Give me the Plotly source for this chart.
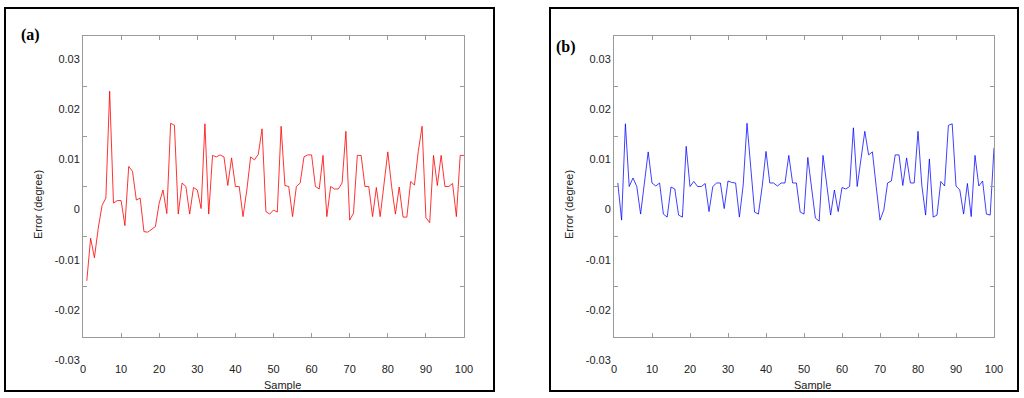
import plotly.graph_objects as go

# ---------------- data (errors in units of 0.001 degree) ----------------
samples = list(range(1, 101))

error_a_milli = [
    -18.8, -10.3, -14.2, -8.3, -3.8, -2.3, 19.0, -3.3, -2.8, -2.8,
    -7.8, 4.0, 3.0, -2.7, -2.3, -9.0, -9.1, -8.6, -8.0, -3.3,
    -0.7, -5.4, 12.6, 12.2, -5.5, 0.7, 0.0, -5.5, -0.2, -0.7,
    -4.4, 12.5, -5.5, 6.2, 5.9, 6.3, 5.9, 0.2, 5.7, 0.0,
    0.0, -6.0, -0.7, 5.9, 5.3, 6.4, 11.5, -5.0, -5.5, -4.7,
    -5.1, 12.0, 0.2, 0.0, -6.0, 0.0, 0.7, 5.9, 6.3, 6.3,
    0.0, -0.5, 6.2, -6.0, 0.0, -0.5, -0.5, 0.7, 11.0, -6.7,
    -5.3, 6.2, 6.2, 0.0, 0.0, -6.0, -0.2, -6.0, 0.3, 6.9,
    0.0, -5.5, -0.1, -6.1, -6.1, 1.0, 0.3, 7.0, 12.0, -6.2,
    -7.2, 6.2, 0.2, 6.2, 0.0, 0.0, 0.6, -6.0, 6.2, 6.2,
]

error_b_milli = [
    0.7, -6.7, 12.5, 0.0, 1.7, 0.0, -5.5, 1.0, 6.9, 0.7,
    0.1, 0.7, -5.5, -6.1, -0.1, -0.5, -5.7, -6.1, 8.0, 0.0,
    1.0, 0.0, 0.0, 0.6, -5.0, 0.0, 0.7, 0.7, -4.4, 1.1,
    0.8, 0.7, -6.1, 0.3, 12.6, 3.7, -5.1, -5.5, 0.0, 7.0,
    0.7, 0.7, 0.1, 0.7, 0.7, 6.2, 0.7, 0.7, -5.1, -5.5,
    5.8, -0.3, -6.3, -6.9, 6.2, 0.3, -5.7, -0.7, -5.0, -0.2,
    -0.5, 0.0, 11.7, 0.0, 5.5, 11.0, 6.3, 6.9, 0.0, -6.7,
    -4.7, 0.7, 1.1, 6.3, 6.3, 0.2, 5.7, 0.7, 0.7, 11.0,
    0.3, -5.7, 5.5, -6.1, -5.7, 1.0, 0.1, 12.2, 12.5, 0.1,
    -0.7, -5.5, 0.6, -6.0, 6.2, 0.1, 1.1, -5.5, -5.7, 7.7,
]

x_ticks = list(range(0, 101, 10))
y_ticks = [-0.03, -0.02, -0.01, 0, 0.01, 0.02, 0.03]
y_tick_text = ["-0.03", "-0.02", "-0.01", "0", "0.01", "0.02", "0.03"]

panel_labels = ["(a)", "(b)"]
x_title = "Sample"
y_title = "Error (degree)"

error_a = [v / 1000 for v in error_a_milli]
error_b = [v / 1000 for v in error_b_milli]

# ---------------- layout helpers ----------------
W, H = 1024, 398


def fx(px):
    return px / W


def fy(py):
    return 1 - py / H


fig = go.Figure()
fig.add_trace(go.Scatter(x=samples, y=error_a, mode="lines",
                         line=dict(color="rgba(255,0,0,0.8)", width=1),
                         xaxis="x", yaxis="y", showlegend=False))
fig.add_trace(go.Scatter(x=samples, y=error_b, mode="lines",
                         line=dict(color="rgba(0,0,255,0.75)", width=1),
                         xaxis="x2", yaxis="y2", showlegend=False))

axis_font = dict(family="Liberation Sans, Arial, sans-serif", size=11, color="#222")
axis_common = dict(showline=True, linecolor="#9a9a9a", linewidth=1, mirror="ticks",
                   ticks="inside", ticklen=4, tickcolor="#9a9a9a", tickwidth=1,
                   showgrid=False, zeroline=False, tickfont=axis_font,
                   automargin=False)

xcommon = dict(axis_common, range=[0, 100], tickvals=x_ticks, ticklabelstandoff=22)
ycommon = dict(axis_common, range=[-0.03, 0.03], tickvals=y_ticks, ticktext=y_tick_text,
               ticklabelshift=23)

y_dom = [fy(337), fy(36)]
fig.update_layout(
    width=W, height=H,
    margin=dict(l=0, r=0, t=0, b=0, autoexpand=False),
    paper_bgcolor="white", plot_bgcolor="white",
    xaxis=dict(xcommon, domain=[fx(83), fx(464)], anchor="y"),
    yaxis=dict(ycommon, domain=y_dom, anchor="x"),
    xaxis2=dict(xcommon, domain=[fx(614), fx(994)], anchor="y2"),
    yaxis2=dict(ycommon, domain=y_dom, anchor="x2"),
)

# panel frames
for x0, x1 in [(5, 494), (550, 1018)]:
    fig.add_shape(type="rect", xref="paper", yref="paper",
                  x0=fx(x0), x1=fx(x1), y0=fy(391), y1=fy(8),
                  line=dict(color="black", width=2), fillcolor="rgba(0,0,0,0)")

title_font = dict(family="Liberation Sans, Arial, sans-serif", size=11, color="#222")
label_font = dict(family="Liberation Serif, Times New Roman, serif", size=16, color="black")

annotations = [
    dict(text="<b>" + panel_labels[0] + "</b>", x=fx(30), y=fy(35), font=label_font),
    dict(text="<b>" + panel_labels[1] + "</b>", x=fx(566), y=fy(47), font=label_font),
    dict(text=y_title, x=fx(38), y=fy(205), textangle=-90, font=title_font),
    dict(text=y_title, x=fx(569), y=fy(205), textangle=-90, font=title_font),
    dict(text=x_title, x=fx(282), y=fy(385), font=title_font),
    dict(text=x_title, x=fx(812), y=fy(385), font=title_font),
]
for a in annotations:
    fig.add_annotation(xref="paper", yref="paper", showarrow=False,
                       xanchor="center", yanchor="middle", **a)

fig.write_html("out.html", config={"displayModeBar": False},
               post_script="document.body.style.margin='0';")
